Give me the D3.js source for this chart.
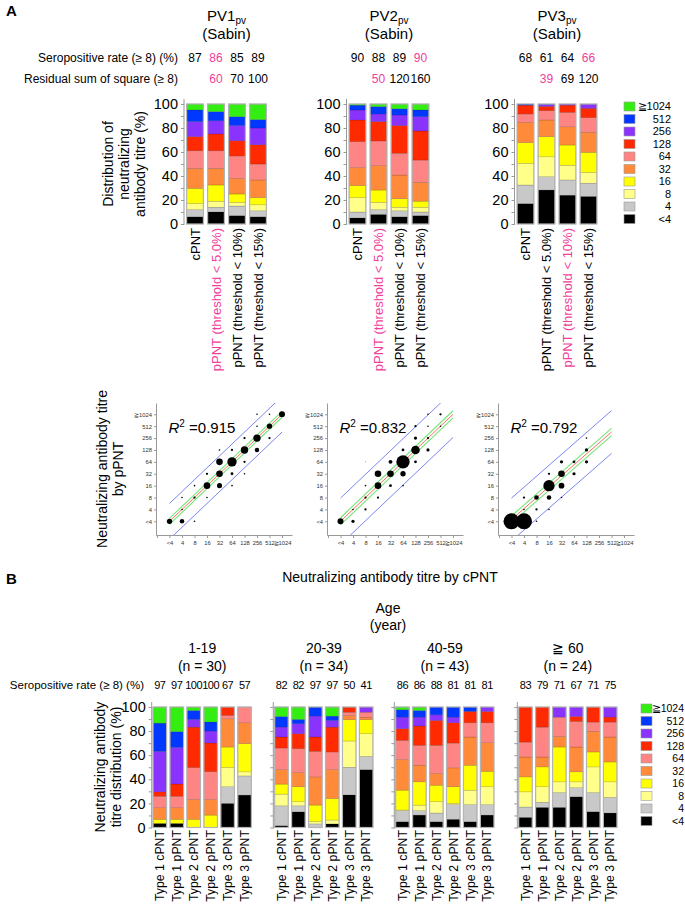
<!DOCTYPE html>
<html><head><meta charset="utf-8">
<script src="https://cdn.jsdelivr.net/npm/d3@7"></script>
<style>
body{margin:0;background:#fff;}
svg{display:block;font-family:"Liberation Sans",Arial,Helvetica,sans-serif;}
</style></head><body>
<svg id="c" width="685" height="904"></svg>
<script>
// ---------- shared ----------
const titreLabels = ["<4","4","8","16","32","64","128","256","512","≧1024"];
const titreColors = ["#000000","#c8c8c8","#ffff8a","#ffff00","#ff8a3a","#ff8585","#ff2a00","#8a33ff","#0038ff","#33ee11"];

// ---------- panel A : bars ----------
const pvNames = ["PV1","PV2","PV3"];
const pvCategories = ["cPNT","pPNT (threshold < 5.0%)","pPNT (threshold < 10%)","pPNT (threshold < 15%)"];
// each bar: % for <4,4,8,16,32,64,128,256,512,>=1024
const pv1Dist = [
  [6,6,5,12.7,16.7,14.6,11.8,12.5,9.7,5],
  [10,4,5,13.5,13.9,14.6,14,11,7.6,6.4],
  [7,8,3,7,13,18.7,12.7,12.6,7.4,10.6],
  [6,5,5,6,14.7,13.3,16,14,7,13]
];
const pv2Dist = [
  [5,5,12,10,15,21.6,18.1,8.3,4,1],
  [8,4,6,10.3,20.3,20.6,16.1,6.4,6.1,2.2],
  [6,5,3,7,19.8,18.2,23,8.8,5.2,4],
  [7,3,4,5,15.7,18.6,24.2,11.9,5.6,5]
];
const pv3Dist = [
  [17,15.5,18,17.3,16.9,7,7.3,0,1,0],
  [28.3,11.1,16.6,16.8,13.9,7.7,3.6,1.5,0.5,0],
  [24,12.7,12.3,16.8,15.2,12,6,1,0,0],
  [23,11,9,16.7,16.7,12.2,7.8,3.6,0,0]
];
const pv1Sero = [87,86,85,89];
const pv2Sero = [90,88,89,90];
const pv3Sero = [68,61,64,66];
const pv1Rss = [null,60,70,100];
const pv2Rss = [null,50,120,160];
const pv3Rss = [null,39,69,120];
const seroHighlight = [1,3,3];
const rssHighlight = [1,1,1];
const labelHighlight = [1,1,2];

// ---------- panel A : scatter ----------
const scatterTicks = ["<4","4","8","16","32","64","128","256","512","≧1024"];
// [cPNT level, pPNT level, count]
const pv1Points = [[0,0,11],[1,0,8],[2,0,1],[1,1,1],[1,2,1],[2,2,2],[2,3,1],[3,2,1],[3,3,17],[3,4,2],[4,3,10],[4,4,17],[4,5,17],[4,6,1],[5,3,1],[5,4,3],[5,5,34],[5,6,2],[6,4,1],[6,5,2],[6,6,21],[6,7,2],[7,6,8],[7,7,21],[7,8,1],[7,9,1],[8,7,2],[8,8,11],[8,9,1],[9,9,14]];
const pv2Points = [[0,0,14],[1,0,4],[1,1,1],[2,1,2],[2,2,2],[2,3,1],[2,5,0.3],[3,2,2],[3,3,17],[3,4,17],[4,3,3],[4,4,17],[4,5,6],[5,3,1],[5,4,11],[5,5,70],[5,6,3],[6,5,3],[6,6,29],[6,7,4],[6,8,2],[7,6,4],[7,7,2],[7,8,1],[7,9,1],[8,8,1],[8,9,2]];
const pv3Points = [[0,0,100],[1,0,100],[2,0,1],[1,1,1],[1,2,2],[2,1,2],[2,2,8],[3,1,1],[3,2,8],[3,3,50],[3,4,2],[4,2,1],[4,3,13],[4,4,17],[4,5,4],[5,4,4],[5,5,3],[6,5,4],[6,6,4],[6,7,1]];
const r2Values = ["0.915","0.832","0.792"];
const fitSlope = [1.0,1.0,0.92];
const fitIntercept = [0,0,0.15];
const fitBand = [0.25,0.3,0.3];
const predBand = [1.5,1.95,1.8];
const fitMaxX = [9,9,8];

// ---------- panel B ----------
const ageGroups = ["1-19","20-39","40-59","≧ 60"];
const ageN = [30,34,43,24];
const typeCategories = ["Type 1 cPNT","Type 1 pPNT","Type 2 cPNT","Type 2 pPNT","Type 3 cPNT","Type 3 pPNT"];
const age1Dist = [
  [3.4,0,0,3.4,9.6,9.6,3.6,33.6,23.4,13.4],
  [3.4,0,0,3.4,9.6,9.6,10.1,30.3,13.2,20.4],
  [0,0,0,6.8,16.5,26.4,33.6,6.4,7.4,2.9],
  [0,0,0,10.3,13,23.1,23.9,9.9,7.5,12.5],
  [20,13.8,15.9,17,23.4,2.8,7,0,0,0],
  [26.9,15.9,3.4,23.4,17.3,13.1,0,0,0,0]
];
const age2Dist = [
  [1.5,16.5,9.7,8.3,12.1,17.9,9.1,8.2,8.8,7.9],
  [13,5,3.4,12.4,11.8,19.8,12.4,8.3,3.6,10.3],
  [0,3,2,13.6,23.4,21.2,11.9,17.3,7.6,0],
  [3,0,3.2,17.9,24,14.6,20.6,5.5,3.6,7.6],
  [27,23,21.8,17.6,3.6,2.7,4.3,0,0,0],
  [48,11,18.8,11.6,2.1,4.2,0,4.3,0,0]
];
const age3Dist = [
  [4.8,9.2,0.5,16.5,25.3,16,9.7,9.6,6.1,2.3],
  [10.3,3.7,4.6,19.3,13.8,16.5,16,7.4,5.5,2.9],
  [4.8,7.2,9.4,13.7,9.7,23.4,20.6,4.7,6.5,0],
  [6.8,12.2,1,13.8,15.7,20.6,16.8,4.7,8.4,0],
  [4.8,14.2,12,20.7,23.4,11.8,9.4,0,3.7,0],
  [10.3,8.7,14.8,12.9,23.7,16.5,9.4,3.7,0,0]
];
const age4Dist = [
  [8.4,8.6,12.6,12.4,16.5,12.4,29.1,0,0,0],
  [16.7,4.3,12.8,16.5,8.2,24.8,16.7,0,0,0],
  [16.7,12.3,8.9,28.9,8.8,16,0,8.4,0,0],
  [25.5,7.5,4.9,8.3,20.6,21.2,4.1,7.9,0,0],
  [13.1,15.9,21.3,12.4,17.1,7.7,12.5,0,0,0],
  [12,13,12.9,16.5,20.7,12.4,4.1,8.4,0,0]
];
const ageSero = [[97,97,100,100,67,57],[82,82,97,97,50,41],[86,86,88,81,81,81],[83,79,71,67,71,75]];

// =====================================================
const svg = d3.select("#c");
const pink = "#f0409a";
const axisGrey = "#999";
const stack = d3.stack().keys(d3.range(10)).value((d,k)=>d[k]).offset(d3.stackOffsetExpand);

function drawStack(g, cats, dist, x, y){
  const series = stack(dist);
  series.forEach((s,k)=>{
    g.append("g").selectAll("rect")
      .data(s.map((d,i)=>({d, i})).filter(o=>o.d[1]-o.d[0]>0))
      .join("rect")
      .attr("x",o=>x(cats[o.i]))
      .attr("width",x.bandwidth())
      .attr("y",o=>y(o.d[1]))
      .attr("height",o=>y(o.d[0])-y(o.d[1]))
      .attr("fill",titreColors[k])
      .attr("stroke","rgba(0,0,0,0.28)")
      .attr("stroke-width",0.5);
  });
  g.append("g").selectAll("rect").data(cats).join("rect")
    .attr("x",c=>x(c)).attr("width",x.bandwidth())
    .attr("y",y(1)).attr("height",y(0)-y(1))
    .attr("fill","none").attr("stroke","#b4b4b4").attr("stroke-width",1.2);
}

function drawYAxis(g, xPos, y, showLabels, fs){
  const ax = g.append("g").attr("transform",`translate(${xPos},0)`)
    .call(d3.axisLeft(y).tickValues([0,.1,.2,.3,.4,.5,.6,.7,.8,.9,1])
      .tickFormat(d=> (showLabels && Math.round(d*100)%20===0) ? Math.round(d*100) : "")
      .tickSize(3).tickSizeOuter(0).tickPadding(3));
  ax.attr("font-family",null).attr("font-size",fs);
  ax.select(".domain").remove();
  ax.selectAll(".tick line").attr("stroke",axisGrey);
  ax.selectAll(".tick text").attr("fill","#000");
  g.append("line").attr("x1",xPos).attr("x2",xPos).attr("y1",y(0)+1).attr("y2",y(1)-5)
    .attr("stroke",axisGrey).attr("stroke-width",1);
}

function drawLegend(x0, y0, textX, fs){
  const lg = svg.append("g");
  const items = d3.range(10).reverse();
  lg.selectAll("rect").data(items).join("rect")
    .attr("x",x0).attr("y",(d,i)=>y0+i*12.5).attr("width",11).attr("height",9)
    .attr("fill",d=>titreColors[d]).attr("stroke","#999").attr("stroke-width",0.6);
  lg.selectAll("text").data(items).join("text")
    .attr("x",textX).attr("y",(d,i)=>y0+i*12.5+8.3).attr("text-anchor","end")
    .attr("font-size",fs).text(d=>titreLabels[d]);
}

// ---------------- Panel A ----------------
svg.append("text").attr("x",6).attr("y",16).attr("font-weight","bold").attr("font-size",15).text("A");

svg.append("text").attr("x",178).attr("y",62).attr("text-anchor","end").attr("font-size",12).text("Seropositive rate (≥ 8) (%)");
svg.append("text").attr("x",178).attr("y",83).attr("text-anchor","end").attr("font-size",12).text("Residual sum of square (≥ 8)");

const aY = d3.scaleLinear().domain([0,1]).range([224,104]);
const aAxisX = [184,346.5,514.5];
const pvDists = [pv1Dist,pv2Dist,pv3Dist];
const pvSeros = [pv1Sero,pv2Sero,pv3Sero];
const pvRssAll = [pv1Rss,pv2Rss,pv3Rss];

pvNames.forEach((name,p)=>{
  const g = svg.append("g");
  const x = d3.scaleBand().domain(pvCategories).range([aAxisX[p]+0.5,aAxisX[p]+84.5]).paddingInner(0.2).paddingOuter(0.1);
  const cx = (x(pvCategories[0]) + x(pvCategories[3]) + x.bandwidth())/2;
  const t = g.append("text").attr("x",cx).attr("y",21).attr("text-anchor","middle").attr("font-size",15);
  t.append("tspan").text(name);
  t.append("tspan").attr("font-size",10).attr("dy",3).text("pv");
  g.append("text").attr("x",cx).attr("y",39).attr("text-anchor","middle").attr("font-size",15).text("(Sabin)");

  pvCategories.forEach((c,i)=>{
    const bx = x(c)+x.bandwidth()/2;
    g.append("text").attr("x",bx).attr("y",62).attr("text-anchor","middle").attr("font-size",12)
      .attr("fill", i===seroHighlight[p]?pink:"#000").text(pvSeros[p][i]);
    if(pvRssAll[p][i]!==null){
      g.append("text").attr("x",bx).attr("y",83).attr("text-anchor","middle").attr("font-size",12)
        .attr("fill", i===rssHighlight[p]?pink:"#000").text(pvRssAll[p][i]);
    }
    g.append("text").attr("transform",`translate(${bx+4.5},228) rotate(-90)`)
      .attr("text-anchor","end").attr("font-size",13)
      .attr("fill", i===labelHighlight[p]?pink:"#000").text(c);
  });
  drawStack(g, pvCategories, pvDists[p], x, aY);
  drawYAxis(g, aAxisX[p], aY, true, 14.5);
});

// y label A
svg.append("text").attr("transform","translate(145,164) rotate(-90)").attr("text-anchor","middle").attr("font-size",14)
  .selectAll("tspan").data(["Distribution of","neutralizing","antibody titre (%)"]).join("tspan")
  .attr("x",0).attr("dy",(d,i)=> i===0? "-2.3em":"1.15em").text(d=>d);

drawLegend(624,102,671,11);

// ---------------- Scatter ----------------
const sAxisX = [156,327,498];
const pvPoints = [pv1Points,pv2Points,pv3Points];
const rScale = n => 0.8*Math.sqrt(n);

pvPoints.forEach((pts,p)=>{
  const g = svg.append("g");
  const sx = d3.scaleLinear().domain([-1.08,9.8]).range([sAxisX[p], sAxisX[p]+136]);
  const sy = d3.scaleLinear().domain([-1.15,9.95]).range([535,403]);
  const clipId = "clip"+p;
  svg.append("clipPath").attr("id",clipId).append("rect")
    .attr("x",sAxisX[p]).attr("y",403).attr("width",136).attr("height",132);

  const ay = g.append("g").attr("transform",`translate(${sAxisX[p]},0)`)
    .call(d3.axisLeft(sy).tickValues(d3.range(10)).tickFormat(i=>scatterTicks[i]).tickSize(2).tickSizeOuter(0).tickPadding(2));
  const axb = g.append("g").attr("transform",`translate(0,535)`)
    .call(d3.axisBottom(sx).tickValues(d3.range(-1,10)).tickFormat(i=> i>=0? scatterTicks[i] : "").tickSize(3).tickSizeOuter(0).tickPadding(3));
  [ay,axb].forEach(a=>{
    a.attr("font-family",null).attr("font-size",5.8);
    a.select(".domain").attr("stroke",axisGrey);
    a.selectAll(".tick line").attr("stroke",axisGrey);
    a.selectAll(".tick text").attr("fill","#333");
  });

  const lines = [
    {off: predBand[p], col:"#7b86f0", w:1},
    {off:-predBand[p], col:"#7b86f0", w:1},
    {off: fitBand[p], col:"#74e874", w:1.1},
    {off:-fitBand[p], col:"#74e874", w:1.1},
    {off:0, col:"#ff5a5a", w:0.9}
  ];
  const lg = g.append("g").attr("clip-path",`url(#${clipId})`);
  const line = d3.line().x(d=>sx(d[0])).y(d=>sy(d[1]));
  lines.forEach(L=>{
    const x0 = 0, x1 = fitMaxX[p];
    lg.append("path")
      .attr("d", line([[x0, fitSlope[p]*x0+fitIntercept[p]+L.off],[x1, fitSlope[p]*x1+fitIntercept[p]+L.off]]))
      .attr("stroke",L.col).attr("stroke-width",L.w).attr("fill","none");
  });

  g.append("g").selectAll("circle").data(pts).join("circle")
    .attr("cx",d=>sx(d[0])).attr("cy",d=>sy(d[1])).attr("r",d=>rScale(d[2]))
    .attr("fill","#000");

  const rt = g.append("text").attr("x",sx(0)-1).attr("y",433).attr("font-size",15);
  rt.append("tspan").attr("font-style","italic").text("R");
  rt.append("tspan").attr("font-size",10).attr("dy",-6).text("2");
  rt.append("tspan").attr("dy",6).text(" =" + r2Values[p]);
});

svg.append("text").attr("transform","translate(115,469) rotate(-90)").attr("text-anchor","middle").attr("font-size",14)
  .selectAll("tspan").data(["Neutralizing antibody titre","by pPNT"]).join("tspan")
  .attr("x",0).attr("dy",(d,i)=> i===0? "-0.55em":"1.15em").text(d=>d);
svg.append("text").attr("x",390).attr("y",582).attr("text-anchor","middle").attr("font-size",14)
  .text("Neutralizing antibody titre by cPNT");

// ---------------- Panel B ----------------
svg.append("text").attr("x",6).attr("y",584).attr("font-weight","bold").attr("font-size",15).text("B");
svg.append("text").attr("x",388).attr("y",613).attr("text-anchor","middle").attr("font-size",14).text("Age");
svg.append("text").attr("x",388).attr("y",630).attr("text-anchor","middle").attr("font-size",14).text("(year)");
svg.append("text").attr("x",144).attr("y",689).attr("text-anchor","end").attr("font-size",11.5).text("Seropositive rate (≥ 8) (%)");

const bY = d3.scaleLinear().domain([0,1]).range([827.5,707]);
const bAxisX = [151.7,273.3,394.3,517.3];
const ageDists = [age1Dist,age2Dist,age3Dist,age4Dist];

ageGroups.forEach((grp,a)=>{
  const g = svg.append("g");
  const x = d3.scaleBand().domain(typeCategories).range([bAxisX[a]+0.5,bAxisX[a]+100.5]).paddingInner(0.2).paddingOuter(0.05);
  const cx = (x(typeCategories[0]) + x(typeCategories[5]) + x.bandwidth())/2;
  g.append("text").attr("x",cx).attr("y",653).attr("text-anchor","middle").attr("font-size",14).text(grp);
  g.append("text").attr("x",cx).attr("y",671).attr("text-anchor","middle").attr("font-size",14).text(`(n = ${ageN[a]})`);
  typeCategories.forEach((c,i)=>{
    const bx = x(c)+x.bandwidth()/2;
    g.append("text").attr("x",bx).attr("y",689).attr("text-anchor","middle").attr("font-size",11)
      .attr("letter-spacing",-0.45).text(ageSero[a][i]);
    g.append("text").attr("transform",`translate(${bx+4.3},830) rotate(-90)`)
      .attr("text-anchor","end").attr("font-size",12.3).text(c);
  });
  drawStack(g, typeCategories, ageDists[a], x, bY);
  drawYAxis(g, bAxisX[a], bY, a===0, 14.5);
});

svg.append("text").attr("transform","translate(113,767) rotate(-90)").attr("text-anchor","middle").attr("font-size",14)
  .selectAll("tspan").data(["Neutralizing antibody","titre distribution (%)"]).join("tspan")
  .attr("x",0).attr("dy",(d,i)=> i===0? "-0.55em":"1.15em").text(d=>d);

drawLegend(641,704,684,10.5);
</script>
</body></html>
